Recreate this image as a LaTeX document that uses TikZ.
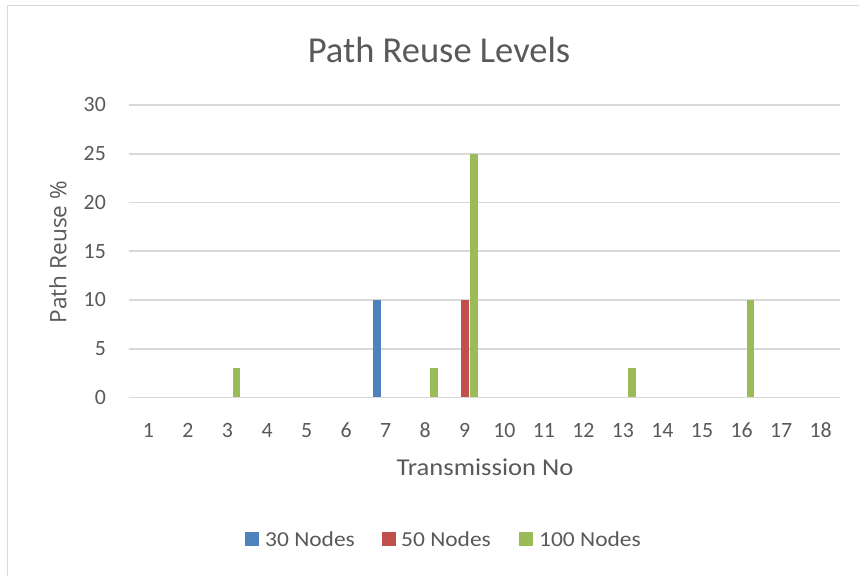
\documentclass[tikz,border=0pt]{standalone}
\usepackage{fontspec}
\setmainfont{Carlito}
\newfontfamily\widefont[FakeStretch=1.1]{Carlito}
\newfontfamily\osans{Open Sans}
\definecolor{txt}{HTML}{595959}
\definecolor{grid}{HTML}{D9D9D9}
\definecolor{sblue}{HTML}{4F81BD}
\definecolor{sred}{HTML}{C0504D}
\definecolor{sgreen}{HTML}{9BBB59}
\tikzset{
  gridline/.style={draw=grid, line width=1.6pt},
  ticklab/.style={text=txt, inner sep=0pt, font=\fontsize{21.8}{26}\selectfont},
  legtext/.style={text=txt, inner sep=0pt, anchor=base west, font=\widefont\fontsize{21.3}{25}\selectfont},
  legkey/.style={inner sep=0pt, minimum size=14pt, anchor=south west},
  barbox/.style={inner sep=0pt, minimum width=7.5pt, anchor=south}
}
\newcommand{\pbar}[4]{% name, color, x, value
  \pgfmathsetmacro{\hh}{9.75*#4}
  \node[barbox, fill=#2, minimum height=\hh pt] (#1) at (#3,397.5) {};
}
\begin{document}
\begin{tikzpicture}[x=1pt,y=-1pt]
\fill[white] (0,0) rectangle (859,576);
\useasboundingbox (0,0) rectangle (859,576);
% outer frame
\coordinate (fbl) at (7.5,576);
\coordinate (ftl) at (7.5,5.5);
\coordinate (ftr) at (859,5.5);
\draw[draw=grid, line width=1.4pt] (fbl) -- (ftl) -- (ftr);
% title
\node[text=txt, inner sep=0pt, anchor=base, font=\fontsize{36.5}{42}\selectfont] (title) at (439,62.7) {Path Reuse Levels};
% gridlines and y tick labels
\foreach \k in {0,...,6} {
  \pgfmathsetmacro{\yy}{397.5-48.75*\k}
  \pgfmathtruncatemacro{\lab}{5*\k}
  \coordinate (gl\k) at (128.7,\yy);
  \coordinate (gr\k) at (840.4,\yy);
  \draw[gridline] (gl\k) -- (gr\k);
  \node[ticklab, anchor=base east] (yt\k) at (106,\yy+6.8) {\lab};
}
% x tick labels
\foreach \i in {1,...,18} {
  \pgfmathsetmacro{\xx}{108.9+39.54*\i}
  \node[ticklab, anchor=base] (xt\i) at (\xx,437) {\i};
}
% bars: category center c_i = 108.9 + 39.54 i
\pbar{b7}{sblue}{385.7-8.7}{10}
\pbar{r9}{sred}{464.8}{10}
\pbar{g3}{sgreen}{227.5+9}{3}
\pbar{g8}{sgreen}{425.2+9}{3}
\pbar{g9}{sgreen}{464.8+9}{25}
\pbar{g13}{sgreen}{622.9+9}{3}
\pbar{g16}{sgreen}{741.5+9}{10}
% axis titles
\node[text=txt, inner sep=0pt, anchor=base, font=\widefont\fontsize{24.2}{28}\selectfont] (xtitle) at (485,475.7) {Transmission No};
\node[text=txt, inner sep=0pt, rotate=90, font=\osans\fontsize{22.6}{27}\selectfont] (ytitle) at (58,252) {Path Reuse \%};
% legend
\node[legkey, fill=sblue] (k1) at (245,546) {};
\node[legtext] (l1) at (265,546) {30 Nodes};
\node[legkey, fill=sred] (k2) at (382,546) {};
\node[legtext] (l2) at (401,546) {50 Nodes};
\node[legkey, fill=sgreen] (k3) at (519,546) {};
\node[legtext] (l3) at (539,546) {100 Nodes};
\end{tikzpicture}
\end{document}
